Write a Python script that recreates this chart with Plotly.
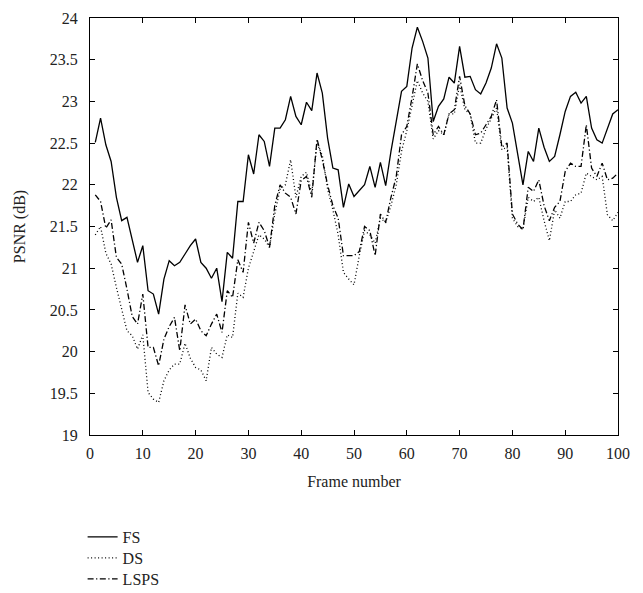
import plotly.graph_objects as go

frames = list(range(1, 101))

fs = [22.51, 22.80, 22.48, 22.28, 21.85, 21.57, 21.61, 21.33, 21.07, 21.27,
      20.73, 20.69, 20.45, 20.87, 21.09, 21.03, 21.07, 21.17, 21.27, 21.35,
      21.07, 21.00, 20.88, 21.00, 20.60, 21.19, 21.12, 21.80, 21.80, 22.36,
      22.13, 22.60, 22.52, 22.22, 22.68, 22.68, 22.78, 23.06, 22.82, 22.72,
      22.99, 22.89, 23.34, 23.10, 22.56, 22.20, 22.18, 21.73, 22.01, 21.86,
      21.93, 22.00, 22.22, 21.97, 22.27, 21.99, 22.40, 22.78, 23.12, 23.18,
      23.64, 23.89, 23.72, 23.52, 22.76, 22.94, 23.03, 23.29, 23.22, 23.66,
      23.29, 23.30, 23.14, 23.09, 23.22, 23.40, 23.69, 23.52, 22.92, 22.74,
      22.38, 22.00, 22.40, 22.28, 22.68, 22.45, 22.28, 22.34, 22.60, 22.88,
      23.06, 23.11, 22.98, 23.06, 22.68, 22.54, 22.50, 22.68, 22.85, 22.90]

ds = [21.40, 21.50, 21.18, 21.05, 20.77, 20.50, 20.25, 20.19, 20.03, 20.20,
      19.51, 19.43, 19.39, 19.65, 19.78, 19.85, 19.85, 20.10, 19.92, 19.81,
      19.78, 19.65, 20.05, 19.97, 19.93, 20.20, 20.17, 20.70, 20.65, 21.00,
      21.20, 21.40, 21.35, 21.25, 21.65, 21.95, 22.00, 22.30, 21.85, 22.10,
      22.15, 21.90, 22.50, 22.35, 21.95, 21.70, 21.40, 20.95, 20.87, 20.80,
      21.15, 21.45, 21.40, 21.30, 21.60, 21.55, 21.75, 22.00, 22.40, 22.65,
      22.95, 23.25, 23.10, 23.00, 22.55, 22.65, 22.60, 22.85, 22.85, 23.20,
      22.90, 22.85, 22.50, 22.50, 22.67, 22.80, 22.92, 22.42, 22.45, 21.60,
      21.50, 21.47, 21.85, 21.80, 21.85, 21.57, 21.33, 21.70, 21.60, 21.80,
      21.80, 21.88, 21.90, 22.14, 22.10, 22.06, 22.10, 21.64, 21.57, 21.67]

lsps = [21.88, 21.80, 21.48, 21.58, 21.13, 21.05, 20.75, 20.42, 20.33, 20.69,
        20.05, 20.05, 19.83, 20.15, 20.30, 20.41, 20.01, 20.56, 20.33, 20.39,
        20.25, 20.19, 20.33, 20.45, 20.23, 20.73, 20.65, 21.10, 20.95, 21.55,
        21.30, 21.55, 21.45, 21.25, 21.75, 22.00, 21.90, 21.85, 21.65, 22.05,
        22.10, 21.85, 22.55, 22.30, 22.00, 21.75, 21.60, 21.15, 21.15, 21.15,
        21.20, 21.50, 21.45, 21.15, 21.65, 21.55, 21.85, 22.10, 22.60, 22.70,
        23.05, 23.45, 23.25, 23.10, 22.60, 22.70, 22.60, 22.85, 22.90, 23.30,
        22.95, 22.85, 22.60, 22.62, 22.72, 22.82, 23.02, 22.45, 22.50, 21.65,
        21.53, 21.46, 21.97, 21.92, 22.06, 21.75, 21.57, 21.73, 21.80, 22.16,
        22.26, 22.22, 22.22, 22.72, 22.20, 22.10, 22.26, 22.06, 22.08, 22.14]

series_names = ["FS", "DS", "LSPS"]
x_ticks = list(range(0, 101, 10))
y_ticks = [19, 19.5, 20, 20.5, 21, 21.5, 22, 22.5, 23, 23.5, 24]
y_tick_labels = ["19", "19.5", "20", "20.5", "21", "21.5", "22", "22.5", "23", "23.5", "24"]

FONT = "Liberation Serif"
TXT = "#222222"
dashes = ["solid", "1px,2.5px", "6px,2.5px,1.2px,2.5px"]
legend_ids = ["legend", "legend2", "legend3"]
legend_y = [0.1248, 0.0889, 0.0530]

fig = go.Figure()
for name, vals, dash, lg in zip(series_names, [fs, ds, lsps], dashes, legend_ids):
    fig.add_trace(go.Scatter(x=frames, y=vals, mode="lines", name=name, legend=lg,
                             line=dict(color="black", width=1.3, dash=dash)))

axis_common = dict(showline=True, linecolor="black", linewidth=1, mirror="ticks",
                   ticks="inside", ticklen=5, tickcolor="black", showgrid=False,
                   zeroline=False, tickfont=dict(family=FONT, size=16, color=TXT))
fig.update_xaxes(range=[0, 100], tickvals=x_ticks, ticklabelstandoff=4,
                 title=dict(text="Frame number", font=dict(family=FONT, size=16, color=TXT), standoff=14),
                 **axis_common)
fig.update_yaxes(range=[19, 24], tickvals=y_ticks, ticktext=y_tick_labels, ticklabelstandoff=8,
                 title=dict(text="PSNR (dB)", font=dict(family=FONT, size=16, color=TXT), standoff=20),
                 **axis_common)

legend_style = dict(x=-0.014, xanchor="left", xref="paper", yanchor="top", yref="container",
                    orientation="v", font=dict(family=FONT, size=16, color=TXT),
                    bgcolor="rgba(0,0,0,0)")

# page body adds an 8px offset; compensate so the plot area lands where the reference has it
fig.update_layout(
    width=635, height=585,
    margin=dict(l=82, r=25, t=10, b=158, autoexpand=False),
    plot_bgcolor="white", paper_bgcolor="white",
    showlegend=True,
    legend=dict(y=legend_y[0], **legend_style),
    legend2=dict(y=legend_y[1], **legend_style),
    legend3=dict(y=legend_y[2], **legend_style),
)
fig.write_html("out.html")
